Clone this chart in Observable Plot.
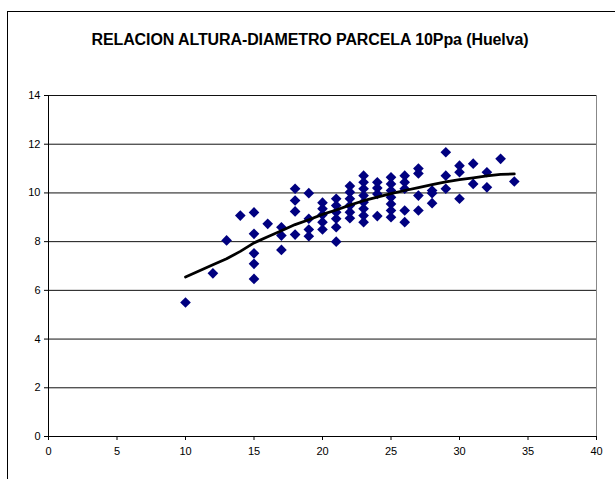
<!DOCTYPE html>
<html>
<head>
<meta charset="utf-8">
<script src="https://cdn.jsdelivr.net/npm/d3@7"></script>
<script src="https://cdn.jsdelivr.net/npm/@observablehq/plot@0.6"></script>
<style>
  html, body { margin: 0; padding: 0; background: #fff; overflow: hidden; }
  #fig { position: relative; width: 615px; height: 479px; overflow: hidden; }
  #frame { position: absolute; left: 7px; top: 11px; width: 640px; height: 500px; border: 1px solid #000; box-sizing: border-box; }
  #title { position: absolute; left: 0; top: 0; width: 620px; height: 60px; text-align: center;
           font-family: "Liberation Sans", Arial, sans-serif; font-weight: bold; font-size: 16px;
           line-height: 18px; padding-top: 31px; box-sizing: border-box; color: #000; letter-spacing: -0.1px; }
  #chart { position: absolute; left: 0; top: 60px; }
</style>
</head>
<body>
<div id="fig">
  <div id="frame"></div>
  <div id="title">RELACION ALTURA-DIAMETRO PARCELA 10Ppa (Huelva)</div>
  <div id="chart"></div>
</div>
<script>
// Diameter (x) and height (y) observations
const diam = [
  10, 12, 13, 14,
  15, 15, 15, 15, 15,
  16,
  17, 17, 17,
  18, 18, 18, 18,
  19, 19, 19, 19,
  20, 20, 20, 20, 20,
  21, 21, 21, 21, 21, 21,
  22, 22, 22, 22, 22, 22,
  23, 23, 23, 23, 23, 23, 23, 23,
  24, 24, 24, 24,
  25, 25, 25, 25, 25, 25, 25,
  26, 26, 26, 26, 26,
  27, 27, 27, 27,
  28, 28, 28,
  29, 29, 29,
  30, 30, 30,
  31, 31,
  32, 32,
  33,
  34
];
const altura = [
  5.5, 6.7, 8.05, 9.07,
  9.2, 8.32, 7.52, 7.09, 6.47,
  8.73,
  8.59, 8.25, 7.66,
  10.17, 9.69, 9.24, 8.29,
  9.99, 8.94, 8.5, 8.22,
  9.6, 9.35, 9.1, 8.8, 8.5,
  9.76, 9.48, 9.21, 8.94, 8.59, 8.0,
  10.28, 10.03, 9.76, 9.48, 9.21, 8.96,
  10.71, 10.44, 10.17, 9.89, 9.62, 9.35, 9.07, 8.8,
  10.44, 10.2, 9.96, 9.05,
  10.64, 10.37, 10.1, 9.82, 9.55, 9.28, 9.0,
  10.71, 10.44, 10.17, 9.28, 8.8,
  11.0, 10.8, 9.89, 9.28,
  10.1, 9.99, 9.58,
  11.67, 10.71, 10.17,
  11.12, 10.85, 9.76,
  11.2, 10.37,
  10.85, 10.23,
  11.4,
  10.47
];
// Trend line
const trendX = [10, 12, 13, 14, 15, 16, 17, 18, 19, 20, 21, 22, 23, 24, 25, 26, 27, 28, 29, 30, 31, 32, 33, 34];
const trendY = [6.55, 7.05, 7.3, 7.6, 7.95, 8.2, 8.45, 8.7, 8.9, 9.12, 9.3, 9.5, 9.68, 9.83, 9.97, 10.1, 10.22, 10.34, 10.45, 10.55, 10.62, 10.7, 10.76, 10.78];

const xTicks = [0, 5, 10, 15, 20, 25, 30, 35, 40];
const yTicks = [0, 2, 4, 6, 8, 10, 12, 14];

const points = diam.map((d, i) => ({x: d, y: altura[i]}));
const trend = trendX.map((d, i) => ({x: d, y: trendY[i]}));

const chart = Plot.plot({
  width: 615,
  height: 419,
  marginTop: 35,
  marginLeft: 48,
  marginRight: 19,
  marginBottom: 43,
  x: {domain: [0, 40]},
  y: {domain: [0, 14]},
  style: {fontFamily: "'Liberation Sans', Arial, sans-serif", fontSize: "11px", color: "#000", background: "transparent"},
  marks: [
    Plot.ruleY(yTicks.filter(d => d > 0), {stroke: "#111", strokeWidth: 1}),
    Plot.ruleX([40], {stroke: "#888", strokeWidth: 1}),
    Plot.ruleX([0], {stroke: "#000", strokeWidth: 1}),
    Plot.ruleY([0], {stroke: "#000", strokeWidth: 1.2}),
    Plot.axisX({ticks: xTicks, tickSize: 4, tickPadding: 7, label: null, stroke: "#000"}),
    Plot.axisY({ticks: yTicks, tickSize: 4, tickPadding: 4, label: null, stroke: "#000"}),
    Plot.dot(points, {x: "x", y: "y", symbol: "diamond2", r: 4.8, fill: "#000080", stroke: null}),
    Plot.line(trend, {x: "x", y: "y", stroke: "#000", strokeWidth: 2.8, curve: "linear"})
  ]
});
document.getElementById("chart").appendChild(chart);
</script>
</body>
</html>
